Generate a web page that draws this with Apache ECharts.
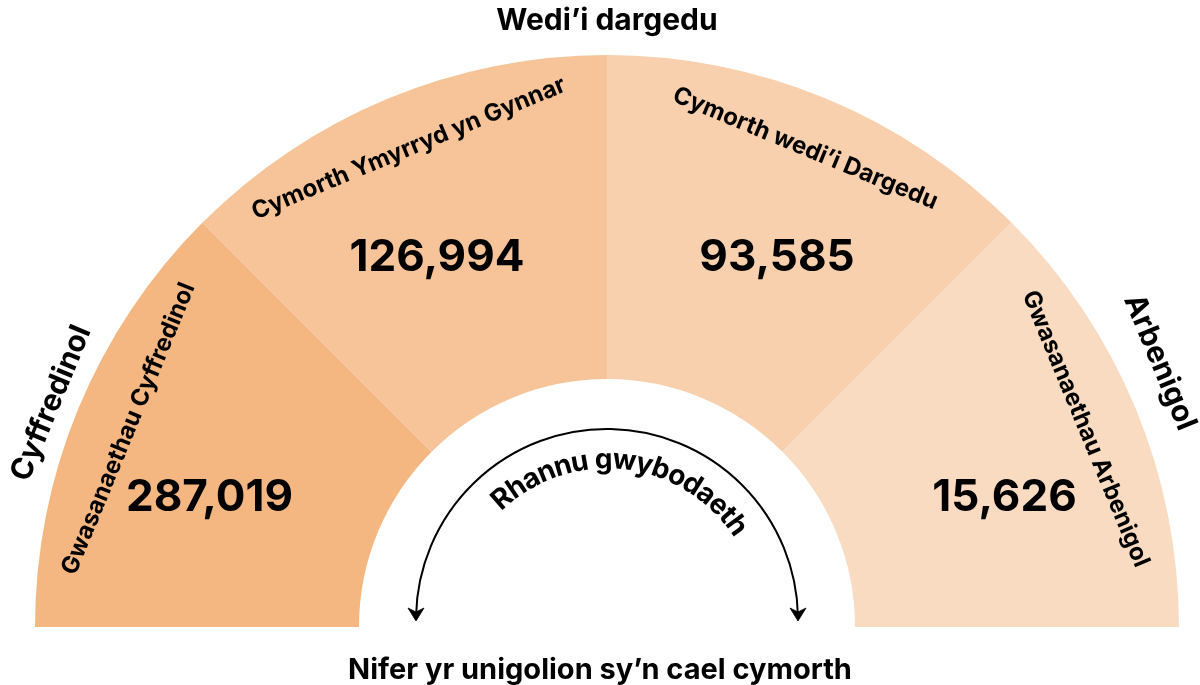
<!DOCTYPE html>
<html><head><meta charset="utf-8">
<script src="https://cdn.jsdelivr.net/npm/echarts@6/dist/echarts.min.js"></script>
<style>html,body{margin:0;padding:0;background:#fff}#chart{width:1200px;height:685px}</style>
</head><body><div id="chart"></div>
<script>
// ---- data ----
const categories = ['Gwasanaethau Cyffredinol', 'Cymorth Ymyrryd yn Gynnar', 'Cymorth wedi’i Dargedu', 'Gwasanaethau Arbenigol'];
const values = [287019, 126994, 93585, 15626];
const sectorShares = [1, 1, 1, 1];
const groups = ['Cyffredinol', 'Wedi’i dargedu', 'Arbenigol'];
const groupShares = [1, 2, 1];
const colors = ['#F4B781', '#F6C498', '#F8D0AD', '#F9DBC1'];
const innerLabel = 'Rhannu gwybodaeth';
const bottomTitle = 'Nifer yr unigolion sy’n cael cymorth';

// ---- layout ----
const CX = 607, CY = 627;          // centre of the half-donut
const ACX = 607, ACY = 620;        // centre of the inner arrow arc
const FONT = 'Inter, "Open Sans", sans-serif';
const chart = echarts.init(document.getElementById('chart'), null, {renderer: 'canvas'});

const transparent = {color: 'rgba(0,0,0,0)', borderWidth: 0};

// curved text for inner arc
function curvedText(text, font, R, centerDeg) {
  const cv = document.createElement('canvas').getContext('2d');
  cv.font = font;
  const widths = Array.from(text).map(ch => cv.measureText(ch).width);
  const total = widths.reduce((a, b) => a + b, 0);
  const c = centerDeg * Math.PI / 180;
  const start = c + total / R / 2;
  let acc = 0;
  const out = [];
  Array.from(text).forEach((ch, i) => {
    const phi = start - (acc + widths[i] / 2) / R;
    acc += widths[i];
    if (ch === ' ') return;
    out.push({
      type: 'text',
      x: ACX + R * Math.cos(phi),
      y: ACY - R * Math.sin(phi),
      rotation: phi - Math.PI / 2,
      silent: true,
      style: {text: ch, font: font, fill: '#000', align: 'center', verticalAlign: 'middle'}
    });
  });
  return out;
}

const arcR = 191, endOff = 0.02;
const leftEnd = [ACX - arcR, ACY];
const rightEnd = [ACX + arcR, ACY];
function arrowHead(p) {
  return {
    type: 'polygon', silent: true,
    shape: {points: [[p[0], p[1] + 1], [p[0] - 8, p[1] - 12], [p[0], p[1] - 8], [p[0] + 8, p[1] - 12]]},
    style: {fill: '#000', stroke: '#000', lineWidth: 0.8, lineJoin: 'round'}
  };
}

const graphics = [
  {
    type: 'arc', silent: true,
    shape: {cx: ACX, cy: ACY, r: arcR, startAngle: Math.PI + endOff, endAngle: 2 * Math.PI - endOff, clockwise: true},
    style: {stroke: '#000', lineWidth: 2, fill: null}
  },
  arrowHead(leftEnd),
  arrowHead(rightEnd)
].concat(curvedText(innerLabel, 'bold 28px ' + FONT, 160, 83.5));

const option = {
  animation: false,
  backgroundColor: '#ffffff',
  title: {
    text: bottomTitle,
    left: 'center',
    top: 651,
    textStyle: {fontFamily: FONT, fontSize: 29, fontWeight: 'bold', color: '#000'}
  },
  graphic: graphics,
  series: [
    {
      type: 'pie', silent: true,
      center: [CX, CY], radius: [248, 572],
      startAngle: 180, endAngle: 0,
      label: {show: false}, labelLine: {show: false},
      itemStyle: {borderWidth: 0},
      data: categories.map((n, i) => ({name: n, value: sectorShares[i], itemStyle: {color: colors[i]}}))
    },
    {
      type: 'pie', silent: true,
      center: [CX, CY], radius: [462, 568],
      startAngle: 180, endAngle: 0,
      itemStyle: transparent,
      label: {show: true, position: 'inside', rotate: 'tangential', formatter: '{b}',
        fontFamily: FONT, fontSize: 24, fontWeight: 'bold', color: '#000'},
      labelLine: {show: false},
      data: categories.map((n, i) => ({name: n, value: sectorShares[i]}))
    },
    {
      type: 'pie', silent: true,
      center: [CX, CY], radius: [390, 440],
      startAngle: 186, endAngle: -6,
      itemStyle: transparent,
      label: {show: true, position: 'inside', rotate: 0,
        formatter: p => values[p.dataIndex].toLocaleString('en-US'),
        fontFamily: FONT, fontSize: 44, fontWeight: 'bold', color: '#000'},
      labelLine: {show: false},
      labelLayout: p => ({dy: (p.dataIndex === 1 || p.dataIndex === 2) ? 13 : 0}),
      data: categories.map((n, i) => ({name: n, value: sectorShares[i]}))
    },
    {
      type: 'pie', silent: true,
      center: [CX, CY], radius: [586, 620],
      startAngle: 180, endAngle: 0,
      itemStyle: transparent,
      label: {show: true, position: 'inside', rotate: 'tangential', formatter: '{b}',
        fontFamily: FONT, fontSize: 30, fontWeight: 'bold', color: '#000'},
      labelLine: {show: false},
      // offsets are in the label's rotated frame
      labelLayout: p => (p.dataIndex === 2 ? {dx: -33, dy: -6} : (p.dataIndex === 0 ? {dx: -6, dy: 7} : {})),
      data: groups.map((n, i) => ({name: n, value: groupShares[i]}))
    }
  ]
};
chart.setOption(option);
</script>
</body></html>
